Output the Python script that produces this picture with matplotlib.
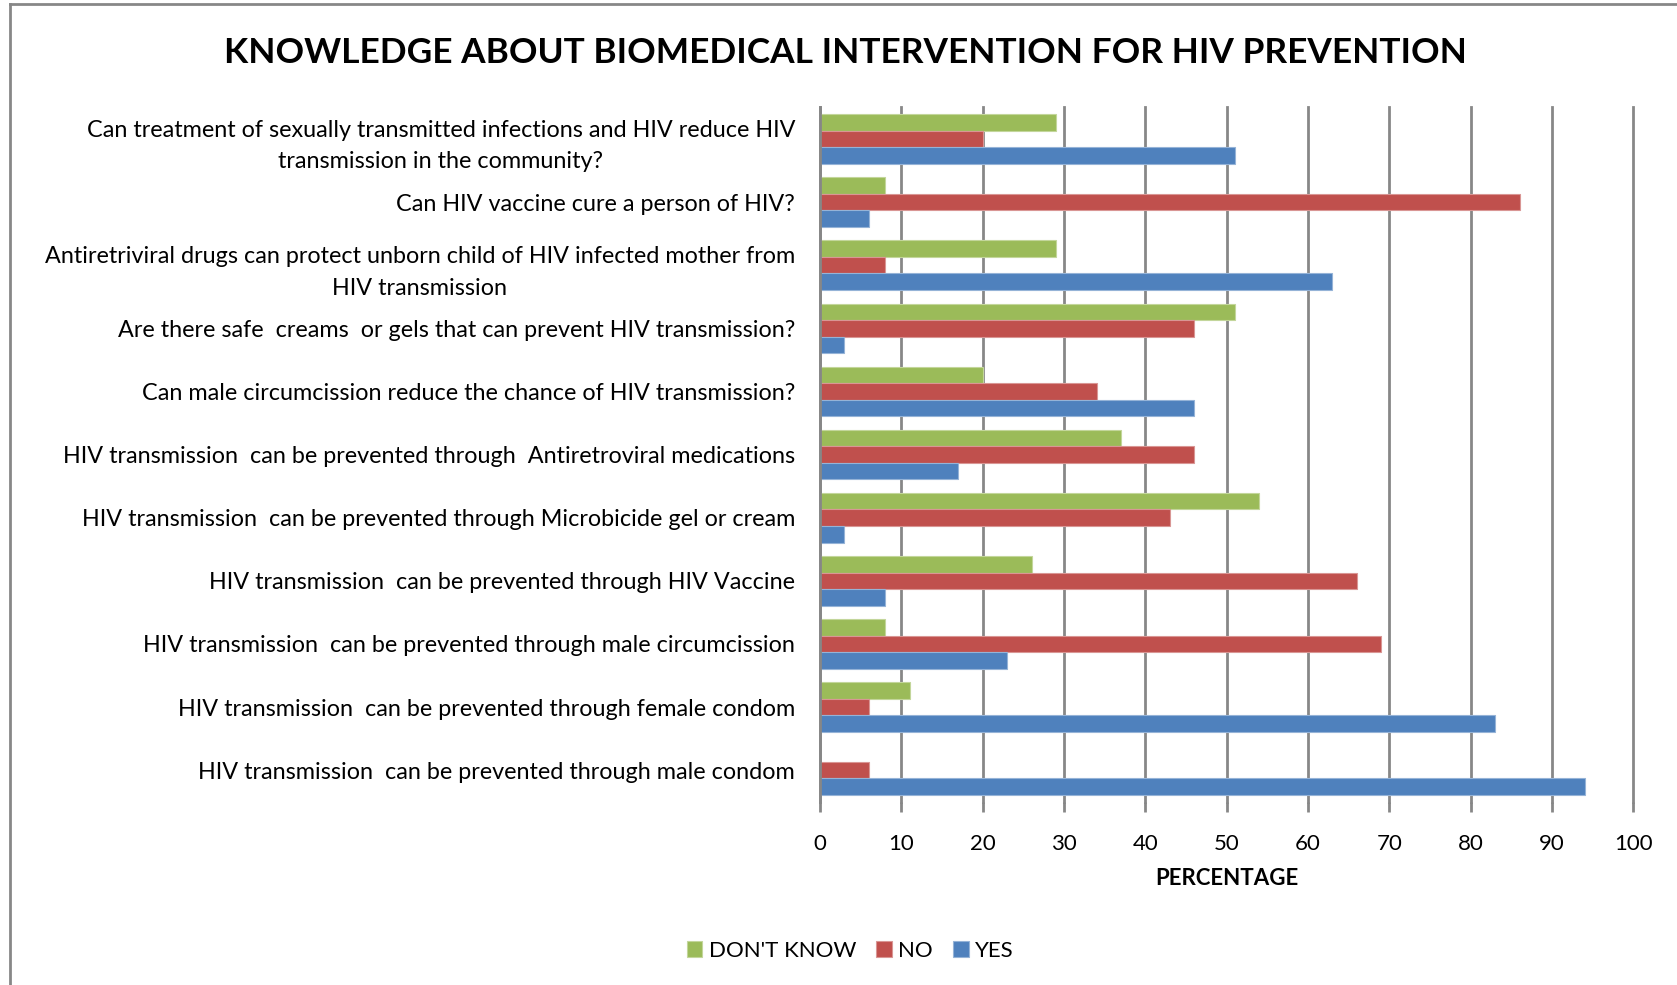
import numpy as np
import matplotlib
matplotlib.use('Agg')
import matplotlib.pyplot as plt
from matplotlib.lines import Line2D

plt.rcParams['font.family'] = ['Lato', 'DejaVu Sans']

#questions, top to bottom as in the chart
questions = [
    'Can treatment of sexually transmitted infections and HIV reduce HIV\ntransmission in the community?',
    'Can HIV vaccine cure a person of HIV?',
    'Antiretriviral drugs can protect unborn child of HIV infected mother from\nHIV transmission',
    'Are there safe  creams  or gels that can prevent HIV transmission?',
    'Can male circumcission reduce the chance of HIV transmission?',
    'HIV transmission  can be prevented through  Antiretroviral medications',
    'HIV transmission  can be prevented through Microbicide gel or cream',
    'HIV transmission  can be prevented through HIV Vaccine',
    'HIV transmission  can be prevented through male circumcission',
    'HIV transmission  can be prevented through female condom',
    'HIV transmission  can be prevented through male condom',
]

dont_know = [29, 8, 29, 51, 20, 37, 54, 26, 8, 11, 0]
no = [20, 86, 8, 46, 34, 46, 43, 66, 69, 6, 6]
yes = [51, 6, 63, 3, 46, 17, 3, 8, 23, 83, 94]

green = '#9BBB59'
red = '#C0504D'
blue = '#4F81BD'
gridcol = '#878787'

fig = plt.figure(figsize=(16.77, 9.85), dpi=100)
ax = fig.add_axes([0.489, 0.186, 0.485, 0.705])

y = np.arange(len(questions))
h = 0.262
ax.barh(y - h, dont_know, height=h, color=green, edgecolor='#c3d69b', linewidth=0.8, label="DON'T KNOW", zorder=3)
ax.barh(y, no, height=h, color=red, edgecolor='#d99694', linewidth=0.8, label='NO', zorder=3)
ax.barh(y + h, yes, height=h, color=blue, edgecolor='#95b3d7', linewidth=0.8, label='YES', zorder=3)

ax.set_xlim(0, 100)
ax.set_ylim(len(questions) - 0.5, -0.5)
ax.set_xticks(np.arange(0, 101, 10))
ax.xaxis.grid(True, color=gridcol, linewidth=2, zorder=0)
for gl in ax.get_xgridlines():
    gl.set_clip_on(False)
ax.set_yticks(y)
ax.set_yticklabels(questions)
for lab in ax.get_yticklabels():
    lab.set_multialignment('center')
    lab.set_linespacing(1.62)

for s in ['top', 'right', 'bottom']:
    ax.spines[s].set_visible(False)
ax.spines['left'].set_color(gridcol)
ax.spines['left'].set_linewidth(2)
ax.spines['left'].set_zorder(4)

ax.tick_params(axis='x', length=7, width=2, color=gridcol, labelsize=16, pad=16)
ax.tick_params(axis='y', length=0, labelsize=16.8, pad=18)
ax.set_xlabel('PERCENTAGE', fontsize=16, fontweight='bold', labelpad=10)

fig.text(0.504, 0.946, 'KNOWLEDGE ABOUT BIOMEDICAL INTERVENTION FOR HIV PREVENTION',
         ha='center', va='center', fontsize=25.4, fontweight='bold')

fig.legend(loc='center', bbox_to_anchor=(0.507, 0.035), ncol=3, frameon=False,
           fontsize=16, handlelength=0.7, handleheight=0.7, handletextpad=0.3,
           columnspacing=0.9)

#chart border (only top and left are visible in the original)
fig.add_artist(Line2D([0.006, 0.006], [0, 0.996], color=gridcol, linewidth=2))
fig.add_artist(Line2D([0.006, 1], [0.996, 0.996], color=gridcol, linewidth=2))

fig.savefig('out.png', dpi=100)
